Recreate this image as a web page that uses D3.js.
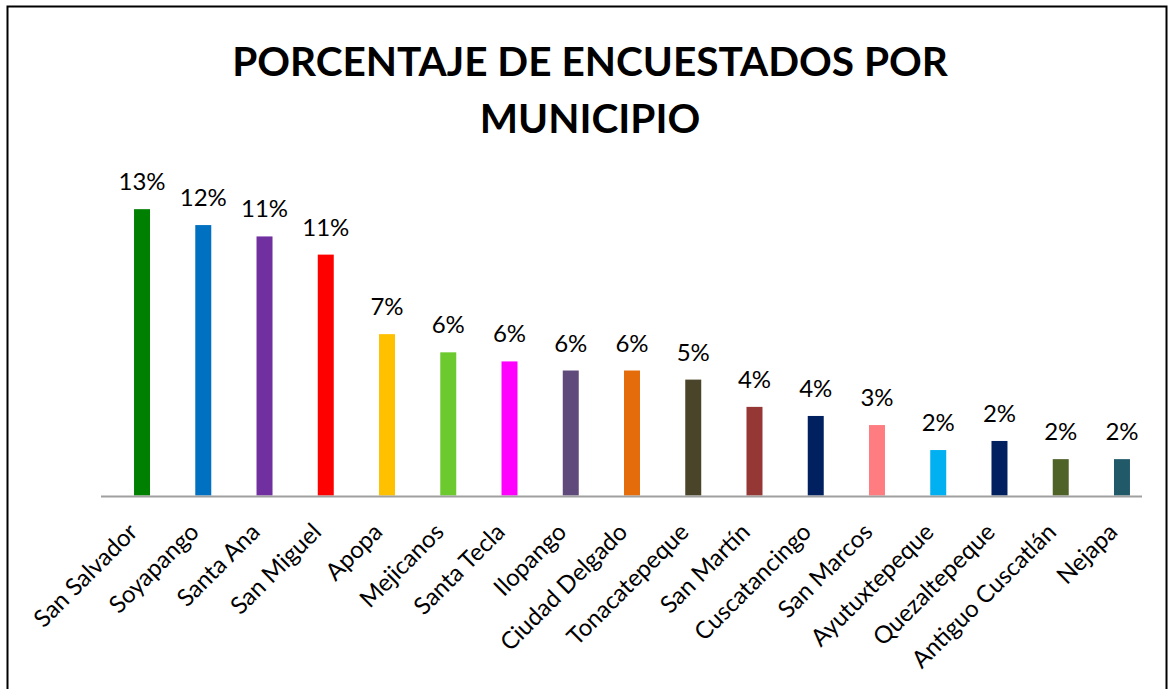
<!DOCTYPE html>
<html>
<head>
<meta charset="utf-8">
<script src="https://cdn.jsdelivr.net/npm/d3@7"></script>
<style>
  body { margin: 0; background: #fff; }
  svg { display: block; }
</style>
</head>
<body>
<div id="chart"></div>
<script>
// municipios, in the order shown
var municipios = ["San Salvador", "Soyapango", "Santa Ana", "San Miguel", "Apopa", "Mejicanos",
  "Santa Tecla", "Ilopango", "Ciudad Delgado", "Tonacatepeque", "San Martín", "Cuscatancingo",
  "San Marcos", "Ayutuxtepeque", "Quezaltepeque", "Antiguo Cuscatlán", "Nejapa"];

// percentage of respondents
var porcentajes = [12.6, 11.9, 11.4, 10.6, 7.1, 6.3, 5.9, 5.5, 5.5, 5.1, 3.9, 3.5, 3.1, 2.0, 2.4, 1.6, 1.6];

// data labels as printed above the bars
var etiquetas = ["13%", "12%", "11%", "11%", "7%", "6%", "6%", "6%", "6%", "5%", "4%", "4%", "3%", "2%", "2%", "2%", "2%"];

var colores = ["#008000", "#0070C0", "#7030A0", "#FF0000", "#FFC000", "#6CC92E", "#FF00FF", "#604A7B",
  "#E46C0A", "#4A452A", "#953735", "#002060", "#FF7C80", "#00B0F0", "#002060", "#4F6228", "#215968"];

var titulo = ["PORCENTAJE DE ENCUESTADOS POR", "MUNICIPIO"];

var width = 1172, height = 689;
var baseY = 495.5;

var svg = d3.select("#chart").append("svg")
    .attr("width", width)
    .attr("height", height);

// chart frame
svg.append("rect")
    .attr("x", 7.5)
    .attr("y", 6.5)
    .attr("width", 1159)
    .attr("height", 700)
    .attr("fill", "none")
    .attr("stroke", "#000")
    .attr("stroke-width", 2);

// title
svg.selectAll(".titulo")
    .data(titulo)
  .enter().append("text")
    .attr("class", "titulo")
    .attr("x", 590)
    .attr("y", function(d, i) { return 76 + i * 57; })
    .attr("text-anchor", "middle")
    .style("font-family", "Lato, 'Open Sans', sans-serif")
    .style("font-weight", "bold")
    .style("font-size", "44px")
    .text(function(d) { return d; });

// fit the first title line to the width it has in the picture
var t0 = svg.select(".titulo").node();
var k = 716 / t0.getComputedTextLength();
svg.selectAll(".titulo").style("font-size", (44 * k) + "px");

var x = d3.scaleBand()
    .domain(municipios)
    .range([111.4, 1152.6])
    .paddingInner(0.739)
    .paddingOuter(0.3695);

var y = d3.scaleLinear()
    .domain([0, 14])
    .range([baseY, baseY - 14 * 22.725]);

// bars
svg.selectAll(".bar")
    .data(municipios)
  .enter().append("rect")
    .attr("class", "bar")
    .attr("x", function(d) { return x(d); })
    .attr("width", x.bandwidth())
    .attr("y", function(d, i) { return y(porcentajes[i]); })
    .attr("height", function(d, i) { return baseY - y(porcentajes[i]); })
    .attr("fill", function(d, i) { return colores[i]; });

// category axis line
svg.append("line")
    .attr("x1", 101)
    .attr("x2", 1142)
    .attr("y1", baseY + 1)
    .attr("y2", baseY + 1)
    .attr("stroke", "#A0A0A0")
    .attr("stroke-width", 2);

// value labels
svg.selectAll(".valor")
    .data(municipios)
  .enter().append("text")
    .attr("class", "valor")
    .attr("x", function(d) { return x(d) + x.bandwidth() / 2; })
    .attr("y", function(d, i) { return y(porcentajes[i]) - 19; })
    .attr("text-anchor", "middle")
    .style("font-family", "Lato, 'Open Sans', sans-serif")
    .style("font-size", "24px")
    .attr("fill", "#000")
    .text(function(d, i) { return etiquetas[i]; });

// rotated category labels
svg.selectAll(".cat")
    .data(municipios)
  .enter().append("text")
    .attr("class", "cat")
    .attr("text-anchor", "end")
    .attr("transform", function(d) {
        var cx = x(d) + x.bandwidth() / 2;
        return "translate(" + (cx - 3) + "," + (baseY + 38) + ") rotate(-45)";
    })
    .style("font-family", "Lato, 'Open Sans', sans-serif")
    .style("font-size", "24px")
    .attr("fill", "#000")
    .text(function(d) { return d; });
</script>
</body>
</html>
